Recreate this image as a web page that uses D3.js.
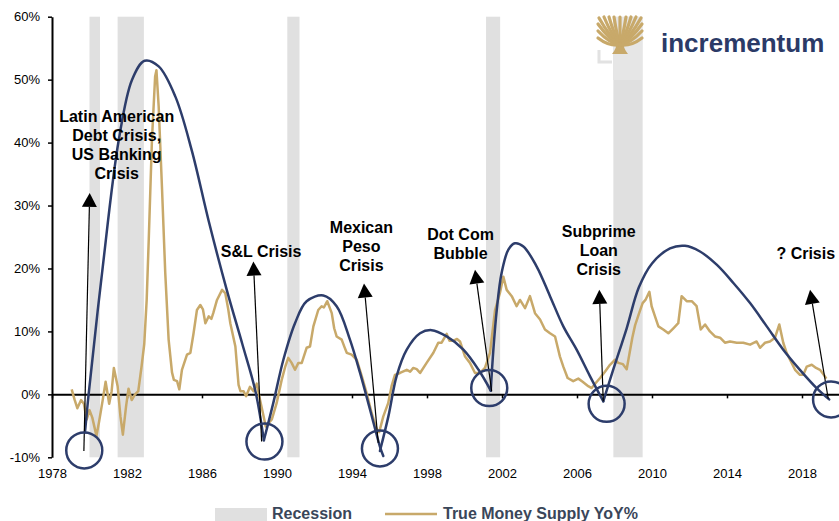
<!DOCTYPE html>
<html><head><meta charset="utf-8">
<script src="https://cdn.jsdelivr.net/npm/d3@7"></script>
<style>
html,body{margin:0;padding:0;background:#fff;}
svg{display:block;font-family:"Liberation Sans",Arial,sans-serif;}
</style></head>
<body>
<svg id="chart" width="839" height="521"></svg>
<script>
// ---------------- DATA ----------------
const yTicks = [-10, 0, 10, 20, 30, 40, 50, 60];
const xTicks = [1978, 1982, 1986, 1990, 1994, 1998, 2002, 2006, 2010, 2014, 2018];

const recessionStart = [1980.0, 1981.5, 1990.55, 2001.15, 2007.94];
const recessionEnd   = [1980.56, 1982.9, 1991.2, 2001.9, 2009.5];

const moneyDates = [1979.05,1979.2,1979.35,1979.55,1979.7,1979.85,1980.0,1980.15,1980.37,1980.52,1980.7,1980.86,1981.05,1981.18,1981.3,1981.5,1981.65,1981.78,1981.95,1982.08,1982.25,1982.43,1982.6,1982.78,1982.92,1983.05,1983.16,1983.33,1983.5,1983.57,1983.69,1983.87,1984.04,1984.22,1984.4,1984.5,1984.67,1984.79,1984.93,1985.2,1985.38,1985.55,1985.73,1985.91,1986.05,1986.18,1986.36,1986.5,1986.6,1986.8,1987.07,1987.24,1987.4,1987.51,1987.78,1987.95,1988.05,1988.22,1988.35,1988.56,1988.75,1988.92,1989.09,1989.25,1989.4,1989.55,1989.72,1989.98,1990.25,1990.45,1990.6,1990.78,1990.96,1991.14,1991.32,1991.58,1991.76,1991.94,1992.2,1992.38,1992.5,1992.68,1992.92,1993.05,1993.18,1993.45,1993.6,1993.72,1993.98,1994.25,1994.52,1994.78,1995.05,1995.32,1995.45,1995.67,1995.93,1996.11,1996.29,1996.56,1996.92,1997.1,1997.27,1997.45,1997.63,1997.98,1998.34,1998.6,1998.78,1999.05,1999.2,1999.4,1999.6,1999.76,2000.03,2000.29,2000.56,2000.83,2001.09,2001.36,2001.63,2001.89,2002.07,2002.25,2002.52,2002.78,2002.96,2003.23,2003.49,2003.76,2004.03,2004.29,2004.56,2004.83,2005.09,2005.27,2005.5,2005.8,2006.07,2006.3,2006.6,2006.78,2007.0,2007.23,2007.49,2007.76,2008.03,2008.2,2008.45,2008.65,2008.8,2008.95,2009.1,2009.3,2009.5,2009.65,2009.86,2009.98,2010.16,2010.34,2010.6,2010.87,2011.14,2011.4,2011.58,2011.85,2012.12,2012.38,2012.6,2012.83,2013.09,2013.36,2013.63,2013.89,2014.16,2014.52,2014.87,2015.23,2015.58,2015.76,2016.03,2016.29,2016.56,2016.79,2017.0,2017.18,2017.36,2017.63,2017.89,2018.07,2018.25,2018.52,2018.75,2018.96,2019.14,2019.3];
const moneyYoY = [0.8,-0.8,-2.2,-0.9,-1.5,-4.0,-2.5,-3.7,-6.6,-4.2,-1.0,2.0,-1.5,0.5,4.2,1.3,-3.5,-6.4,-1.9,0.9,-0.9,0.0,0.5,4.5,8.0,15.0,24.6,40.4,50.5,51.5,45.7,32.5,19.3,8.7,3.5,2.3,2.1,0.8,3.9,6.3,6.6,9.7,13.4,14.2,13.5,11.3,12.4,12.0,12.9,15.0,16.6,16.1,13.5,11.3,7.6,1.5,0.5,0.5,-0.3,1.2,0.5,1.7,-0.8,-3.0,-5.1,-4.6,-4.0,-1.4,2.3,4.5,5.8,5.0,3.9,5.0,5.0,7.4,7.6,10.8,13.4,14.0,13.8,14.8,12.9,10.5,9.2,8.7,7.5,6.6,6.3,5.5,2.9,0.2,-3.0,-5.6,-6.0,-3.5,-1.4,1.3,3.1,3.4,3.9,3.6,4.2,4.0,3.4,5.0,6.6,8.2,8.2,9.6,8.5,8.5,8.8,8.4,6.0,5.0,3.4,3.4,4.2,6.6,13.4,16.1,18.7,16.6,15.6,14.0,15.0,13.7,15.6,12.9,11.9,10.3,9.7,9.2,6.0,4.4,2.6,2.1,2.5,2.0,1.3,1.0,1.8,2.6,3.6,4.7,5.5,5.0,4.8,4.0,6.5,9.0,11.0,12.8,14.5,15.0,16.3,14.0,12.4,10.8,10.3,9.7,10.5,11.3,15.6,14.8,14.8,14.0,10.3,11.1,10.0,9.2,9.0,8.2,8.4,8.2,8.2,7.9,8.4,7.4,8.2,8.4,9.0,11.1,8.2,6.6,5.5,3.9,3.1,3.1,4.4,4.7,4.2,3.9,3.2,2.5];

// cycle arcs [year, value]
const arc1 = [[1979.76,-6],[1979.96,0.2],[1980.67,19.3],[1981.56,40.4],[1982.27,50],[1982.94,53.0],[1983.69,52.1],[1984.58,47.3],[1985.45,38.8],[1986.36,27.5],[1987.32,16.6],[1988.15,8.0],[1988.85,0.5],[1989.3,-7.3]];
const arc2 = [[1989.3,-7.3],[1989.8,-1.4],[1990.34,5.5],[1990.96,11.3],[1991.58,14.8],[1992.47,15.7],[1993.18,14.0],[1993.89,8.7],[1994.43,3.4],[1994.96,-2.4],[1995.49,-8.3],[1995.67,-9.8]];
const arc3 = [[1995.49,-9.0],[1995.94,-3.5],[1996.38,2.9],[1996.92,7.1],[1997.63,9.7],[1998.25,10.2],[1999.05,9.2],[1999.94,7.1],[2000.75,3.9],[2001.4,0.6]];
const arc4 = [[2001.4,0.6],[2001.54,7.1],[2001.72,13.4],[2001.98,19.3],[2002.34,23.0],[2002.69,24.0],[2003.14,23.5],[2003.85,20.3],[2004.56,15.6],[2005.27,10.8],[2005.98,7.1],[2006.69,2.9],[2007.4,-1.1]];
const arc5 = [[2007.4,-1.1],[2007.94,4.0],[2008.65,10.5],[2009.3,17.0],[2010.0,20.8],[2010.96,23.2],[2011.76,23.6],[2012.56,22.7],[2013.45,20.6],[2014.34,17.7],[2015.23,14.5],[2016.12,10.8],[2017.0,7.1],[2017.89,3.9],[2018.78,1.0],[2019.45,-0.8]];
const cycleArcs = [arc1, arc2, arc3, arc4, arc5];

// crisis circles
const circleYears  = [1979.72, 1989.33, 1995.49, 2001.32, 2007.58, 2019.55];
const circleValues = [-8.9, -7.5, -8.6, 1.0, -1.5, -0.8];

// arrows: tail (year, value) -> tip (year, value)
const arrowTailYears  = [1979.7, 1989.18, 1995.4, 2001.45, 2007.4, 2019.4];
const arrowTailValues = [-9.0, -7.5, -7.7, 0.5, -1.1, -0.7];
const arrowTipYears   = [1980.01, 1988.74, 1994.64, 2000.56, 2007.19, 2018.43];
const arrowTipValues  = [32.0, 21.1, 17.6, 19.8, 16.6, 16.6];

// annotation labels
const labelLines  = [["Latin American","Debt Crisis,","US Banking","Crisis"],["S&L Crisis"],["Mexican","Peso","Crisis"],["Dot Com","Bubble"],["Subprime","Loan","Crisis"],["? Crisis"]];
const labelYears  = [1981.45, 1989.15, 1994.5, 1999.79, 2007.16, 2018.2];
const labelValues = [43.3, 21.9, 25.7, 24.6, 25.0, 21.5];

const legendLabels = ["Recession", "True Money Supply YoY%"];

// ---------------- STYLE ----------------
const NAVY = "#2d3d6b", GOLD = "#c8a96a", GREY = "#e0e0e0";

const svg = d3.select("#chart");
const x = d3.scaleLinear().domain([1978, 2020]).range([52, 839.5]);
const y = d3.scaleLinear().domain([-10, 60]).range([457.3, 16.7]);

// recession bands
svg.append("g").selectAll("rect").data(recessionStart).join("rect")
  .attr("x", (d)=>x(d)).attr("width", (d,i)=>x(recessionEnd[i]) - x(d))
  .attr("y", y(60)).attr("height", y(-10) - y(60)).attr("fill", GREY);

// y axis
const yAxis = svg.append("g").attr("transform", `translate(${x(1978)},0)`)
  .call(d3.axisLeft(y).tickValues(yTicks).tickFormat(d => d + "%").tickSizeInner(4).tickSizeOuter(0).tickPadding(8));
yAxis.select(".domain").attr("stroke", "#000").attr("stroke-width", 2);
yAxis.selectAll(".tick line").attr("stroke", "#000").attr("stroke-width", 1.5);
yAxis.selectAll("text").attr("font-size", 13).attr("fill", "#000").attr("font-family", "Liberation Sans, Arial, sans-serif");

// x axis line at 0 with ticks
const xAxis = svg.append("g").attr("transform", `translate(0,${y(0)})`)
  .call(d3.axisBottom(x).tickValues(xTicks).tickFormat("").tickSizeInner(4).tickSizeOuter(0));
xAxis.select(".domain").attr("stroke", "#000").attr("stroke-width", 2);
xAxis.selectAll(".tick line").attr("stroke", "#000").attr("stroke-width", 1.5);

// x labels at bottom
const xLab = svg.append("g").attr("transform", `translate(0,${y(-10) + 11.3})`)
  .call(d3.axisBottom(x).tickValues(xTicks).tickFormat(d3.format("d")).tickSize(0).tickPadding(0));
xLab.select(".domain").remove();
xLab.selectAll("text").attr("font-size", 13).attr("fill", "#000").attr("font-family", "Liberation Sans, Arial, sans-serif");

// gold money supply line
const moneyData = moneyDates.map((d,i)=>[d, moneyYoY[i]]);
svg.append("path").datum(moneyData)
  .attr("d", d3.line().x(d=>x(d[0])).y(d=>y(d[1])).curve(d3.curveLinear))
  .attr("fill", "none").attr("stroke", GOLD).attr("stroke-width", 2.5).attr("stroke-linejoin", "round");

// navy arcs
const arcLine = d3.line().x(d=>x(d[0])).y(d=>y(d[1])).curve(d3.curveCatmullRom.alpha(0.5));
svg.append("g").selectAll("path").data(cycleArcs).join("path")
  .attr("d", arcLine).attr("fill", "none").attr("stroke", NAVY).attr("stroke-width", 2.5).attr("stroke-linecap", "round");

// arrows
const arrows = svg.append("g");
arrowTailYears.forEach((ty, i) => {
  const x0 = x(ty), y0 = y(arrowTailValues[i]);
  const x1 = x(arrowTipYears[i]), y1 = y(arrowTipValues[i]);
  const dx = x1 - x0, dy = y1 - y0, L = Math.hypot(dx, dy);
  const ux = dx / L, uy = dy / L;
  const hl = 14, hw = 7.5;
  const bx = x1 - ux * hl, by = y1 - uy * hl;
  arrows.append("line").attr("x1", x0).attr("y1", y0).attr("x2", bx).attr("y2", by)
    .attr("stroke", "#000").attr("stroke-width", 1.2);
  arrows.append("path")
    .attr("d", `M${x1},${y1}L${bx - uy*hw},${by + ux*hw}L${bx + uy*hw},${by - ux*hw}Z`)
    .attr("fill", "#000");
});

// circles
svg.append("g").selectAll("circle").data(circleYears).join("circle")
  .attr("cx", d=>x(d)).attr("cy", (d,i)=>y(circleValues[i])).attr("r", 18)
  .attr("fill", "none").attr("stroke", NAVY).attr("stroke-width", 2.5);

// annotation labels
const lab = svg.append("g").attr("font-size", 16).attr("font-weight", "bold").attr("fill", "#000").attr("text-anchor", "middle");
labelLines.forEach((lines, i) => {
  const t = lab.append("text").attr("x", x(labelYears[i])).attr("y", y(labelValues[i]));
  lines.forEach((ln, j) => t.append("tspan").attr("x", x(labelYears[i])).attr("dy", j === 0 ? 0 : 19).text(ln));
});

// legend
const leg = svg.append("g");
leg.append("rect").attr("x", 215).attr("y", 508).attr("width", 52).attr("height", 14).attr("fill", GREY);
leg.append("text").attr("x", 272).attr("y", 519).text(legendLabels[0])
  .attr("font-size", 16).attr("font-weight", "bold").attr("fill", "#3a4659");
leg.append("line").attr("x1", 385).attr("x2", 437).attr("y1", 514).attr("y2", 514)
  .attr("stroke", GOLD).attr("stroke-width", 2.5);
leg.append("text").attr("x", 443).attr("y", 519).text(legendLabels[1])
  .attr("font-size", 16).attr("font-weight", "bold").attr("fill", "#3a4659");

// logo
const logo = svg.append("g");
logo.append("rect").attr("x", 613).attr("y", 17).attr("width", 29).attr("height", 63).attr("fill", "#e6e6e6");
logo.append("path").attr("d", "M599,50 V62 H612").attr("fill", "none").attr("stroke", "#e2e2e2").attr("stroke-width", 3);
logo.append("path").attr("d", "M612,54 Q617,48 617,40 L623,40 Q623,48 628,54 Z").attr("fill", GOLD);
const branches = [[599,18],[604,17],[609,17],[614,17],[620,17],[626,17],[631,17],[636,17],[641,18],[598,24],[642,24],[598,31],[642,31],[598,38],[642,38]];
branches.forEach(b => {
  logo.append("path").attr("d", `M620,45 Q${(620+b[0])/2},${(45+b[1])/2 + 5} ${b[0]},${b[1]}`)
    .attr("fill", "none").attr("stroke", GOLD).attr("stroke-width", 3.2).attr("stroke-linecap", "round");
});
logo.append("text").attr("x", 661).attr("y", 52).text("incrementum")
  .attr("font-size", 26).attr("font-weight", "bold").attr("fill", "#2b3a67");
</script>
</body></html>
